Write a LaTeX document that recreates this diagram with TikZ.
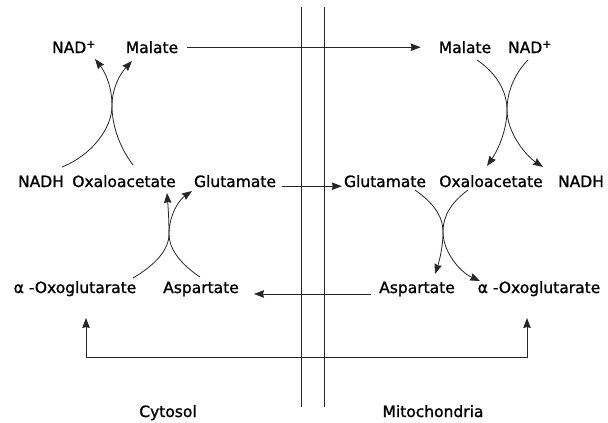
\documentclass[tikz,border=0pt]{standalone}
\usepackage{fontspec}
\setmainfont{DejaVu Sans}
\newfontfamily\lblfont{DejaVu Sans}[FakeBold=1.2]
\usetikzlibrary{arrows.meta}
\tikzset{
  lbl/.style={anchor=base,inner sep=0pt,font=\lblfont\fontsize{15.5}{18}\selectfont},
  ln/.style={line width=0.8pt,draw=black!85},
  arr/.style={ln,-{Stealth[length=10pt,width=7.5pt,inset=1pt]}},
  darr/.style={ln,{Stealth[length=10pt,width=7.5pt,inset=1pt]}-{Stealth[length=10pt,width=7.5pt,inset=1pt]}},
}
\begin{document}
\begin{tikzpicture}[x=1pt,y=-1pt]
\useasboundingbox (0,0) rectangle (608,423);
% membranes
\coordinate (m1t) at (301,7); \coordinate (m1b) at (301,407);
\coordinate (m2t) at (324,7); \coordinate (m2b) at (324,407);
\draw[ln] (m1t) -- (m1b);
\draw[ln] (m2t) -- (m2b);
% labels row 1
\node[lbl] (nadL) at (74,53) {NAD\textsuperscript{+}};
\node[lbl] (malL) at (152,53) {Malate};
\node[lbl] (malR) at (465,53) {Malate};
\node[lbl] (nadR) at (530,53) {NAD\textsuperscript{+}};
% row 2
\node[lbl] (nadhL) at (41,187) {NADH};
\node[lbl] (oxaL) at (124,187) {Oxaloacetate};
\node[lbl] (gluL) at (235,187) {Glutamate};
\node[lbl] (gluR) at (385,187) {Glutamate};
\node[lbl] (oxaR) at (491,187) {Oxaloacetate};
\node[lbl] (nadhR) at (581,187) {NADH};
% row 3
\node[lbl] (akgL) at (75,293) {α -Oxoglutarate};
\node[lbl] (aspL) at (201,293) {Aspartate};
\node[lbl] (aspR) at (417,293) {Aspartate};
\node[lbl] (akgR) at (539,293) {α -Oxoglutarate};
% compartments
\node[lbl] (cyt) at (168,417) {Cytosol};
\node[lbl] (mit) at (433,417) {Mitochondria};
% straight transport arrows
\draw[arr,shorten <=9pt,shorten >=18pt] (malL.east) -- (malR.west);
\draw[arr,shorten <=6pt,shorten >=2pt] ([yshift=-5pt]gluL.east) -- ([yshift=-5pt]gluR.west);
\draw[arr,shorten <=8pt,shorten >=15pt] ([yshift=-5pt]aspR.west) -- ([yshift=-5pt]aspL.east);
% bottom loop
\coordinate (bl) at (86,318); \coordinate (br) at (527,318);
\coordinate (blc) at (86,357); \coordinate (brc) at (527,357);
\draw[darr] (bl) -- (blc) -- (brc) -- (br);
% left upper reaction
\coordinate (a0) at (62,167); \coordinate (a1) at (95,59);
\coordinate (b0) at (133,165); \coordinate (b1) at (132,61);
\coordinate (mA) at (112,106);
\draw[arr] (a0) .. controls (92,155) and (112,128) .. (mA) .. controls (112,86) and (105,72) .. (a1);
\draw[arr] (b0) .. controls (120,148) and (112,126) .. (mA) .. controls (112,88) and (120,74) .. (b1);
% left lower reaction
\coordinate (e0) at (133,278); \coordinate (e1) at (167,193);
\coordinate (f0) at (200,277); \coordinate (f1) at (192,191);
\coordinate (mE) at (169,234);
\draw[arr] (e0) .. controls (155,265) and (169,250) .. (mE) .. controls (169,218) and (168,206) .. (e1);
\draw[arr] (f0) .. controls (182,265) and (169,250) .. (mE) .. controls (169,215) and (179,200) .. (f1);
% right upper reaction
\coordinate (c0) at (477,60); \coordinate (c1) at (487,166);
\coordinate (d0) at (528,60); \coordinate (d1) at (543,167);
\coordinate (mC) at (507,110);
\draw[arr] (c0) .. controls (495,72) and (507,90) .. (mC) .. controls (507,130) and (498,150) .. (c1);
\draw[arr] (d0) .. controls (516,72) and (507,90) .. (mC) .. controls (507,132) and (525,155) .. (d1);
% right lower reaction
\coordinate (g0) at (415,190); \coordinate (g1) at (435,274);
\coordinate (h0) at (468,190); \coordinate (h1) at (480,281);
\coordinate (mG) at (443,232);
\draw[arr] (g0) .. controls (432,202) and (443,215) .. (mG) .. controls (443,248) and (439,262) .. (g1);
\draw[arr] (h0) .. controls (452,202) and (443,215) .. (mG) .. controls (443,252) and (460,272) .. (h1);
\end{tikzpicture}
\end{document}
